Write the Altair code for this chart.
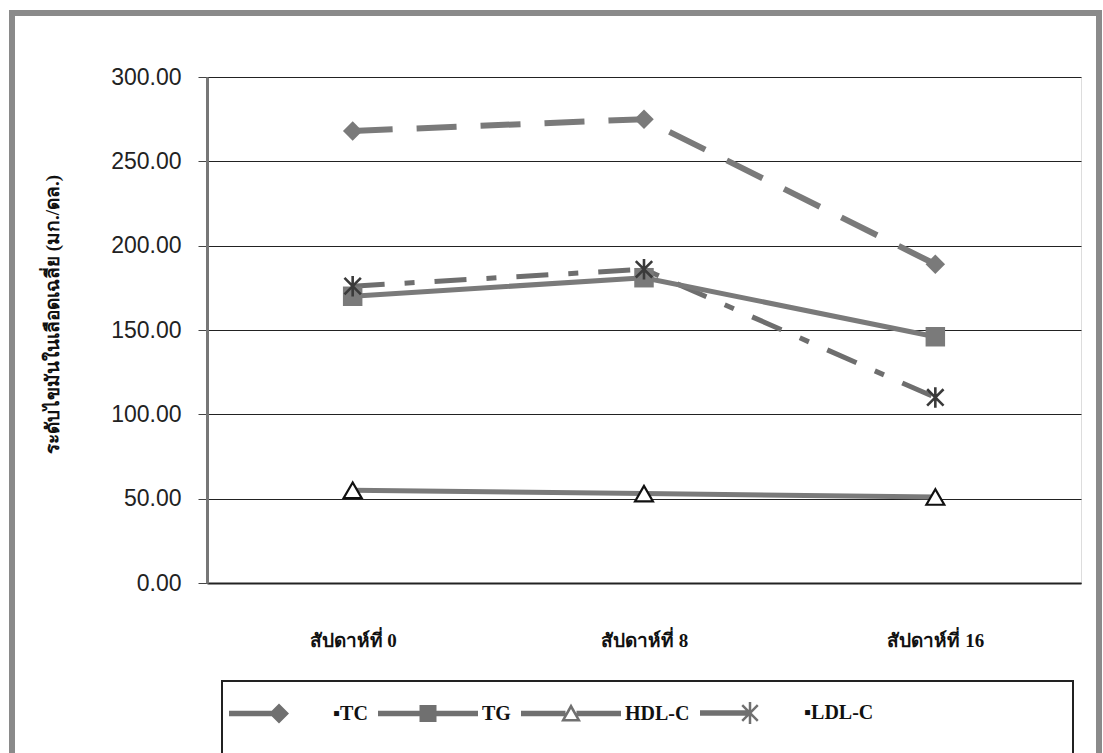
import altair as alt
import pandas as pd
import math

# ---------------- data ----------------
weeks = ["สัปดาห์ที่ 0", "สัปดาห์ที่ 8", "สัปดาห์ที่ 16"]
series = ["TC", "TG", "HDL-C", "LDL-C"]
tc = [268, 275, 189]
tg = [170, 181, 146]
hdl = [55, 53, 51]
ldl = [176, 186, 110]
y_ticks = [0, 50, 100, 150, 200, 250, 300]

values = {"TC": tc, "TG": tg, "HDL-C": hdl, "LDL-C": ldl}
rows = []
for s in series:
    for w, v in zip(weeks, values[s]):
        rows.append({"week": w, "series": s, "value": v})
df = pd.DataFrame(rows)

GRAY = "#7a7a7a"

# ---------------- legend symbol paths (unit space [-1,1]) ----------------
def rect(x0, y0, x1, y1):
    return f"M{x0:.3f},{y0:.3f}L{x1:.3f},{y0:.3f}L{x1:.3f},{y1:.3f}L{x0:.3f},{y1:.3f}Z"

def arm(angle_deg, half_len, half_w):
    a = math.radians(angle_deg)
    ux, uy = math.cos(a), math.sin(a)
    px, py = -uy, ux
    pts = [(-half_len * ux - half_w * px, -half_len * uy - half_w * py),
           (half_len * ux - half_w * px, half_len * uy - half_w * py),
           (half_len * ux + half_w * px, half_len * uy + half_w * py),
           (-half_len * ux + half_w * px, -half_len * uy + half_w * py)]
    return "M" + "L".join(f"{x:.3f},{y:.3f}" for x, y in pts) + "Z"

t = 0.055
leg_tc = rect(-1, -t, 0, t) + "M0,-0.2L0.2,0L0,0.2L-0.2,0Z"
leg_tg = rect(-1, -t, 1, t) + rect(-0.17, -0.17, 0.17, 0.17)
leg_hdl = (rect(-1, -t, -0.11, t) + rect(0.11, -t, 1, t)
           + "M0,-0.2L0.2,0.16L-0.2,0.16Z" + "M0,-0.09L-0.115,0.11L0.115,0.11Z")
leg_ldl = rect(-1, -t, 0, t) + arm(90, 0.22, 0.025) + arm(45, 0.22, 0.025) + arm(-45, 0.22, 0.025)
legend_paths = [leg_tc, leg_tg, leg_hdl, leg_ldl]

asterisk = "M0,-1L0,1M-0.8,-0.8L0.8,0.8M-0.8,0.8L0.8,-0.8"

# ---------------- chart ----------------
x_enc = alt.X("week:N", sort=weeks, title=None,
              axis=alt.Axis(labelAngle=0, ticks=False, labelPadding=48,
                            labelFont="Liberation Serif", labelFontWeight="bold",
                            labelFontSize=19, labelColor="#111",
                            domainColor="#222", domainWidth=2, grid=False))
y_enc = alt.Y("value:Q", scale=alt.Scale(domain=[0, 300], nice=False),
              title="ระดับไขมันในเลือดเฉลี่ย (มก./ดล.)",
              axis=alt.Axis(values=y_ticks, format=".2f", tickSize=9, tickColor="#444",
                            labelFont="Liberation Sans", labelFontSize=23, labelColor="#222",
                            labelPadding=17, domainColor="#777", domainWidth=3,
                            gridColor="#222", gridWidth=1.2, gridOpacity=1,
                            titleFont="Liberation Serif", titleFontWeight="bold",
                            titleFontSize=19, titleColor="#111",
                            titleX=-155, titleY=237, titleAngle=270, titleAlign="center",
                            titleBaseline="middle"))

base = alt.Chart(df).encode(x=x_enc, y=y_enc)

def sel(s):
    return alt.datum.series == s

line_tc = base.transform_filter(sel("TC")).mark_line(color=GRAY, strokeWidth=6, strokeDash=[40, 24])
line_tg = base.transform_filter(sel("TG")).mark_line(color=GRAY, strokeWidth=5)
line_hdl = base.transform_filter(sel("HDL-C")).mark_line(color=GRAY, strokeWidth=5)
line_ldl = base.transform_filter(sel("LDL-C")).mark_line(color="#6e6e6e", strokeWidth=5,
                                                         strokeDash=[32, 20, 10, 20])

pt_tc = base.transform_filter(sel("TC")).mark_point(shape="diamond", filled=True, color=GRAY,
                                                    size=380, opacity=1)
pt_tg = base.transform_filter(sel("TG")).mark_point(shape="square", filled=True, color=GRAY,
                                                    size=380, opacity=1)
pt_ldl = base.transform_filter(sel("LDL-C")).mark_point(shape=asterisk, filled=False, color="#3a3a3a",
                                                        size=420, strokeWidth=2.6, opacity=1)
pt_hdl = base.transform_filter(sel("HDL-C")).mark_point(shape="triangle-up", filled=True,
                                                        fill="white", stroke="#111",
                                                        strokeWidth=2.2, size=320, opacity=1)

legend_layer = base.mark_point(filled=True, color="#707070", opacity=0).encode(
    shape=alt.Shape("series:N",
                    scale=alt.Scale(domain=series, range=legend_paths),
                    legend=alt.Legend(title=None, orient="none", legendX=22, legendY=586,
                                      direction="horizontal", columns=4,
                                      symbolSize=10000, symbolOpacity=1,
                                      symbolStrokeWidth=0, symbolFillColor="#707070",
                                      labelFont="Liberation Serif", labelFontWeight="bold",
                                      labelFontSize=20, labelColor="#111",
                                      columnPadding=10, labelOffset=4,
                                      labelExpr="(datum.label == 'TC' || datum.label == 'LDL-C') ? '▪' + datum.label : datum.label"))
)

frame = alt.Chart(df).mark_rect(fill=None, stroke="#8a8a8a", strokeWidth=6).encode(
    x=alt.value(-195), x2=alt.value(892), y=alt.value(-64), y2=alt.value(683))
legend_box = alt.Chart(df).mark_rect(fill=None, stroke="#222", strokeWidth=1.2).encode(
    x=alt.value(15), x2=alt.value(866), y=alt.value(604), y2=alt.value(680))

chart = alt.layer(
    frame, legend_box,
    line_tc, line_ldl, line_tg, line_hdl,
    pt_tc, pt_tg, pt_ldl, pt_hdl,
    legend_layer,
).properties(
    width=874, height=506,
    autosize=alt.AutoSizeParams(type="none"),
    padding={"left": 207, "top": 77, "right": 22, "bottom": 170},
).configure_view(stroke="#222", strokeWidth=1.5).configure(background="white")

chart.save("out.html", embed_options={"renderer": "svg", "actions": False})
